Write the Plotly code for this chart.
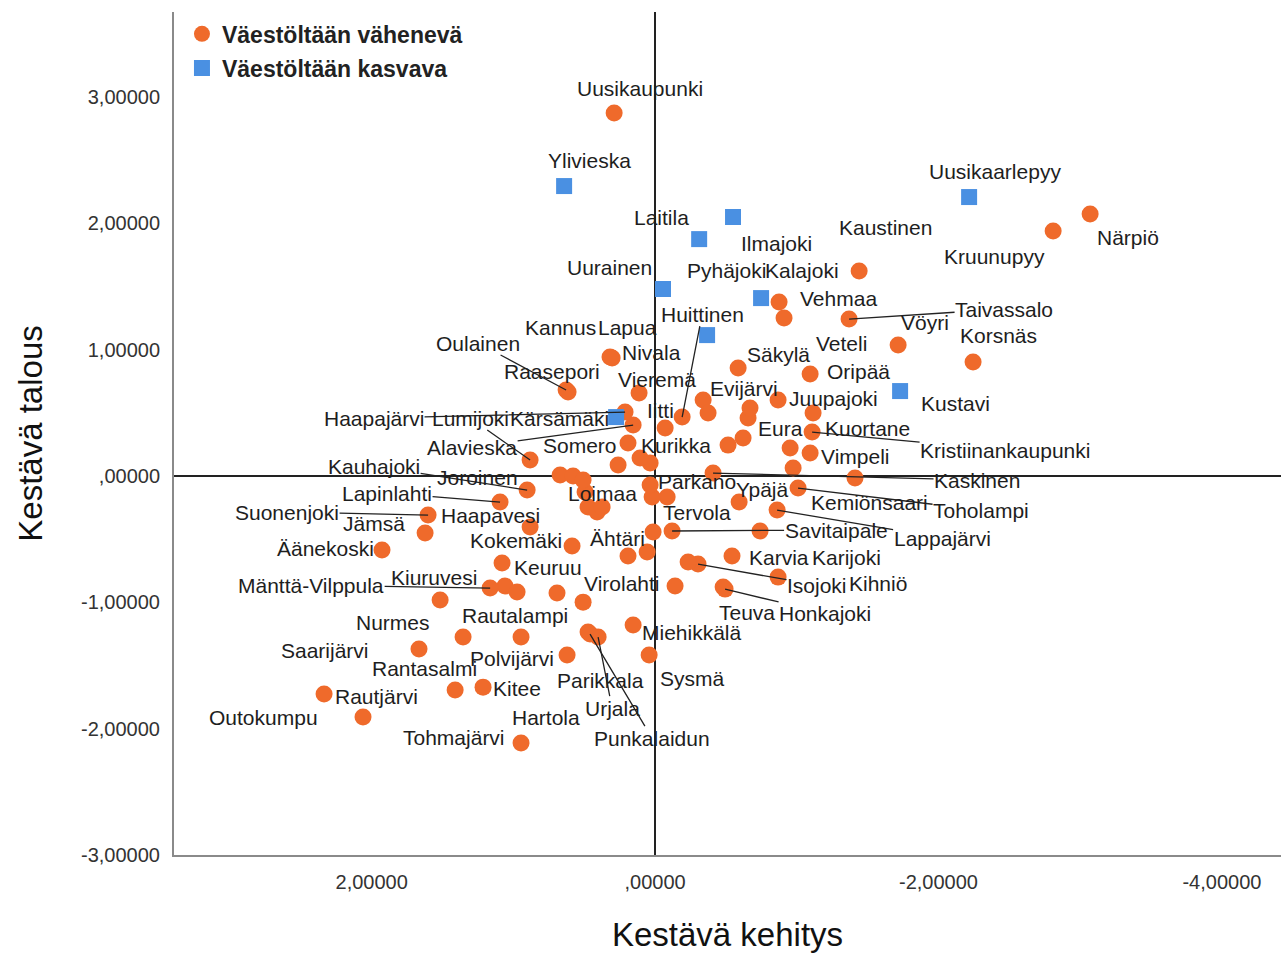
import plotly.graph_objects as go

# ---------------- data ----------------
# Väestöltään vähenevä (declining population)
decl_names = [
    "Uusikaupunki", "Närpiö", "Kruunupyy", "Kaustinen", "Kalajoki", "Vehmaa", "Taivassalo",
    "Vöyri", "Korsnäs", "Veteli", "Oripää", "Säkylä", "Nivala", "Kannus", "Oulainen",
    "Raasepori", "Vieremä", "Evijärvi", "Huittinen", "Iitti", "Juupajoki", "Eura",
    "Kristiinankaupunki", "Kuortane", "Vimpeli", "Kurikka", "Somero", "Alavieska",
    "Haapajärvi", "Lumijoki", "Kauhajoki", "Joroinen", "Parkano", "Kaskinen", "Ypäjä",
    "Toholampi", "Kemiönsaari", "Lappajärvi", "Savitaipale", "Tervola", "Loimaa", "Ähtäri",
    "Kokemäki", "Haapavesi", "Lapinlahti", "Suonenjoki", "Jämsä", "Äänekoski", "Keuruu",
    "Kiuruvesi", "Mänttä-Vilppula", "Virolahti", "Karvia", "Karijoki", "Isojoki", "Kihniö",
    "Teuva", "Honkajoki", "Miehikkälä", "Sysmä", "Nurmes", "Rautalampi", "Saarijärvi",
    "Polvijärvi", "Rantasalmi", "Kitee", "Rautjärvi", "Outokumpu", "Tohmajärvi", "Parikkala",
    "Urjala", "Punkalaidun", "Hartola",
    "", "", "", "", "", "", "", "", "", "", "", "", "", "", "", "", "", "", "",
]
decl_x = [
    0.289, -3.070, -2.809, -1.440, -0.875, -0.910, -1.369,
    -1.715, -2.244, -1.094, -1.115, -0.586, 0.303, 0.318, 0.628,
    0.614, 0.113, -0.339, -0.191, -0.071, -0.868, -0.656,
    -1.108, -0.953, -1.094, 0.035, 0.191, 0.155,
    0.212, 0.882, 0.903, 0.670, -0.085, -0.409, -0.593,
    -1.009, -0.974, -0.861, -0.120, 0.021, 0.494, 0.014,
    0.586, 0.882, 1.094, 1.602, 1.623, 1.927, 1.080,
    1.059, 1.164, -0.141, -0.543, -0.741, -0.303, -0.868,
    -0.480, -0.494, 0.155, 0.042, 1.517, 0.946, 1.666,
    0.621, 1.411, 1.214, 2.336, 2.061, 0.946, 0.473,
    0.402, 0.459, 1.355,
    -0.374, -0.670, -0.621, -0.515, 0.261, 0.106, 0.579, 0.508, 0.035, 0.473,
    0.409, 0.374, 0.191, 0.056, -1.411, -0.233, 0.974, 0.692, 0.508,
]
decl_y = [
    2.874, 2.074, 1.940, 1.623, 1.378, 1.251, 1.243,
    1.037, 0.903, 0.808, 0.499, 0.855, 0.934, 0.942, 0.681,
    0.665, 0.657, 0.602, 0.467, 0.380, 0.602, 0.459,
    0.348, 0.222, 0.182, 0.103, 0.261, 0.404,
    0.507, 0.127, -0.111, 0.008, -0.166, 0.024, -0.206,
    -0.095, 0.063, -0.269, -0.435, -0.166, -0.127, -0.443,
    -0.554, -0.404, -0.206, -0.309, -0.451, -0.586, -0.689,
    -0.871, -0.887, -0.871, -0.633, -0.435, -0.697, -0.800,
    -0.879, -0.895, -1.180, -1.417, -0.982, -1.275, -1.370,
    -1.417, -1.694, -1.671, -1.726, -1.908, -2.114, -1.235,
    -1.275, -1.251, -1.275,
    0.499, 0.538, 0.301, 0.245, 0.087, 0.143, 0.000, -0.032, -0.071, -0.245,
    -0.285, -0.245, -0.633, -0.602, -0.016, -0.681, -0.918, -0.926, -0.998,
]

# Väestöltään kasvava (growing population)
grow_names = ["Ylivieska", "Laitila", "Ilmajoki", "Uusikaarlepyy", "Uurainen",
              "Pyhäjoki", "Lapua", "Kustavi", "Kärsämäki"]
grow_x = [0.642, -0.311, -0.550, -2.216, -0.056, -0.748, -0.367, -1.729, 0.275]
grow_y = [2.296, 1.876, 2.051, 2.209, 1.481, 1.409, 1.116, 0.673, 0.467]

series_names = ["Väestöltään vähenevä", "Väestöltään kasvava"]

x_tick_vals = [2, 0, -2, -4]
x_tick_text = ["2,00000", ",00000", "-2,00000", "-4,00000"]
y_tick_vals = [3, 2, 1, 0, -1, -2, -3]
y_tick_text = ["3,00000", "2,00000", "1,00000", ",00000", "-1,00000", "-2,00000", "-3,00000"]

x_title = "Kestävä kehitys"
y_title = "Kestävä talous"

# ---------------- label placement (pixel offsets from the point; leader line flag) ----------------
LABEL_POS = {
    "Ylivieska": (25, -26, False), "Laitila": (-38, -22, False), "Ilmajoki": (43, 26, False),
    "Uusikaarlepyy": (26, -26, False), "Uurainen": (-54, -22, False), "Pyhäjoki": (-35, -28, False),
    "Lapua": (-80, -8, False), "Kustavi": (55, 12, False), "Kärsämäki": (-57, 1, False),
    "Uusikaupunki": (26, -25, False), "Närpiö": (38, 23, False), "Kruunupyy": (-59, 25, False),
    "Kaustinen": (26, -44, False), "Kalajoki": (23, -32, False), "Vehmaa": (54, -20, False),
    "Taivassalo": (155, -10, True), "Vöyri": (27, -23, False), "Korsnäs": (25, -27, False),
    "Veteli": (31, -31, False), "Oripää": (45, -42, False), "Säkylä": (40, -14, False),
    "Nivala": (39, -6, False), "Kannus": (-50, -30, False), "Oulainen": (-88, -47, True),
    "Raasepori": (-16, -21, False), "Vieremä": (18, -14, False), "Evijärvi": (41, -12, False),
    "Huittinen": (20, -103, True), "Iitti": (-5, -18, False), "Juupajoki": (55, -2, False),
    "Eura": (32, 10, False), "Kristiinankaupunki": (193, 18, True), "Kuortane": (77, -20, False),
    "Vimpeli": (45, 3, False), "Kurikka": (26, -18, False), "Somero": (-48, 2, False),
    "Alavieska": (-161, 22, True), "Haapajärvi": (-251, 6, True), "Lumijoki": (-60, -42, True),
    "Kauhajoki": (-153, -24, True), "Joroinen": (-83, 2, False), "Parkano": (30, -16, False),
    "Kaskinen": (264, 7, True), "Ypäjä": (23, -13, False), "Toholampi": (183, 22, True),
    "Kemiönsaari": (76, 34, False), "Lappajärvi": (165, 28, True), "Savitaipale": (164, -1, True),
    "Tervola": (45, 15, False), "Loimaa": (17, 1, False), "Ähtäri": (-36, 6, False),
    "Kokemäki": (-56, -6, False), "Haapavesi": (-40, -12, False), "Lapinlahti": (-113, -9, True),
    "Suonenjoki": (-141, -3, True), "Jämsä": (-51, -10, False), "Äänekoski": (-57, -2, False),
    "Keuruu": (46, 4, False), "Kiuruvesi": (-71, -9, False), "Mänttä-Vilppula": (-179, -3, True),
    "Virolahti": (-53, -3, False), "Karvia": (47, 1, False), "Karijoki": (86, 26, False),
    "Isojoki": (119, 21, True), "Kihniö": (100, 6, False), "Teuva": (24, 25, False),
    "Honkajoki": (100, 24, True), "Miehikkälä": (59, 7, False), "Sysmä": (43, 23, False),
    "Nurmes": (-47, 22, False), "Rautalampi": (-6, -22, False), "Saarijärvi": (-94, 1, False),
    "Polvijärvi": (-55, 3, False), "Rantasalmi": (-31, -22, False), "Kitee": (34, 1, False),
    "Rautjärvi": (52, 2, False), "Outokumpu": (-100, 0, False), "Tohmajärvi": (-67, -6, False),
    "Parikkala": (12, 48, False), "Urjala": (14, 71, True), "Punkalaidun": (62, 104, True),
    "Hartola": (83, 80, False),
}

FONT = "Liberation Sans, Arial, sans-serif"
ORANGE = "#EF6A2B"
BLUE = "#4A90E2"
LABEL_FONT = dict(family=FONT, size=21, color="#1e1e1e")

fig = go.Figure()
fig.add_trace(go.Scatter(
    x=decl_x, y=decl_y, mode="markers", name=series_names[0], text=decl_names,
    marker=dict(symbol="circle", size=17, color=ORANGE, line=dict(width=0)),
    legend="legend", hovertemplate="%{text}<br>%{x:.3f}, %{y:.3f}<extra></extra>",
))
fig.add_trace(go.Scatter(
    x=grow_x, y=grow_y, mode="markers", name=series_names[1], text=grow_names,
    marker=dict(symbol="square", size=16, color=BLUE, line=dict(width=0)),
    legend="legend2", hovertemplate="%{text}<br>%{x:.3f}, %{y:.3f}<extra></extra>",
))

annotations = []
for names, xs, ys in ((decl_names, decl_x, decl_y), (grow_names, grow_x, grow_y)):
    for n, xv, yv in zip(names, xs, ys):
        if not n or n not in LABEL_POS:
            continue
        dx, dy, leader = LABEL_POS[n]
        if leader:
            annotations.append(dict(
                x=xv, y=yv, xref="x", yref="y", text=n, showarrow=True,
                ax=dx, ay=dy, arrowhead=0, arrowwidth=1.3, arrowcolor="#222",
                standoff=0, startstandoff=0, font=LABEL_FONT, borderpad=0,
            ))
        else:
            annotations.append(dict(
                x=xv, y=yv, xref="x", yref="y", text=n, showarrow=False,
                xshift=dx, yshift=-dy, font=LABEL_FONT,
            ))

LEGEND_FONT = dict(family=FONT, size=23, color="#222", weight="bold")

fig.update_layout(
    width=1281, height=953,
    margin=dict(l=174, r=0, t=12, b=98),
    paper_bgcolor="white", plot_bgcolor="white",
    font=dict(family=FONT, color="#333"),
    annotations=annotations,
    showlegend=True,
    legend=dict(x=0.0072, y=0.974, xanchor="left", yanchor="middle",
                font=LEGEND_FONT, bgcolor="rgba(0,0,0,0)", itemwidth=30),
    legend2=dict(x=0.0072, y=0.9336, xanchor="left", yanchor="middle",
                 font=LEGEND_FONT, bgcolor="rgba(0,0,0,0)", itemwidth=30),
    xaxis=dict(
        range=[3.395, -4.417], tickvals=x_tick_vals, ticktext=x_tick_text,
        showgrid=False, zeroline=True, zerolinecolor="#222", zerolinewidth=2,
        showline=True, linecolor="#8a8a8a", linewidth=2, ticks="",
        tickfont=dict(family=FONT, size=20, color="#333"), ticklabelstandoff=8,
        title=dict(text=x_title, font=dict(family=FONT, size=33, color="#111"), standoff=32),
    ),
    yaxis=dict(
        range=[-3.0, 3.674], tickvals=y_tick_vals, ticktext=y_tick_text,
        showgrid=False, zeroline=True, zerolinecolor="#222", zerolinewidth=2,
        showline=True, linecolor="#8a8a8a", linewidth=2, ticks="",
        tickfont=dict(family=FONT, size=20, color="#333"), ticklabelstandoff=8,
        title=dict(text=y_title, font=dict(family=FONT, size=33, color="#111"), standoff=28),
    ),
)

fig.write_html("out.html", config={"displayModeBar": False},
               post_script="document.body.style.margin='0';")
